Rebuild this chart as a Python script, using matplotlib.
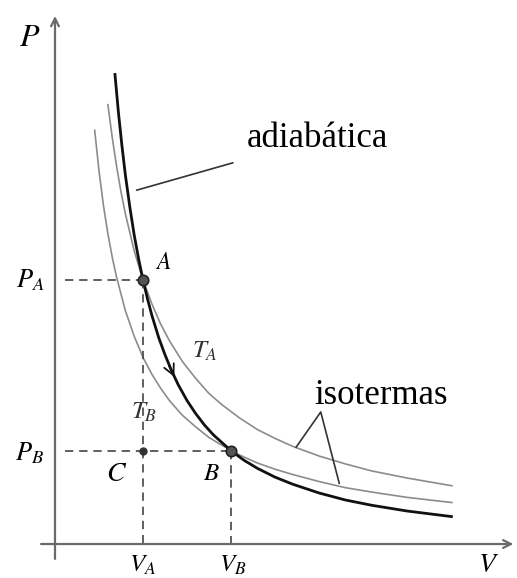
import matplotlib
matplotlib.use("Agg")
import matplotlib.pyplot as plt

plt.rcParams['mathtext.fontset'] = 'stix'

# states A, B and C
V_A, P_A = 1.0, 3.0
V_B, P_B = 2.0, 1.06

# isotherm through A (T_A)
iso_a_v = [0.6, 0.65, 0.7, 0.75, 0.8, 0.9, 1.0, 1.1, 1.2, 1.3, 1.45, 1.6, 1.75, 1.9, 2.1, 2.3,
           2.5, 2.7, 3.0, 3.3, 3.6, 4.0, 4.52]
iso_a_p = [5.00, 4.62, 4.29, 4.00, 3.75, 3.33, 3.00, 2.73, 2.50, 2.31, 2.07, 1.88, 1.71, 1.58,
           1.43, 1.30, 1.20, 1.11, 1.00, 0.91, 0.83, 0.75, 0.66]

# isotherm through B (T_B)
iso_b_v = [0.45, 0.5, 0.55, 0.6, 0.65, 0.7, 0.8, 0.9, 1.0, 1.1, 1.2, 1.3, 1.45, 1.6, 1.75, 1.9,
           2.1, 2.3, 2.5, 2.7, 3.0, 3.3, 3.6, 4.0, 4.52]
iso_b_p = [4.71, 4.24, 3.85, 3.53, 3.26, 3.03, 2.65, 2.36, 2.12, 1.93, 1.77, 1.63, 1.46, 1.33,
           1.21, 1.12, 1.01, 0.92, 0.85, 0.79, 0.71, 0.64, 0.59, 0.53, 0.47]

# adiabat A -> B
adi_v = [0.68, 0.72, 0.76, 0.8, 0.85, 0.9, 0.95, 1.0, 1.05, 1.1, 1.18, 1.25, 1.32, 1.4, 1.5,
         1.6, 1.7, 1.8, 2.0, 2.15, 2.3, 2.5, 2.7, 3.0, 3.3, 3.6, 4.0, 4.52]
adi_p = [5.35, 4.91, 4.53, 4.19, 3.83, 3.51, 3.24, 3.00, 2.79, 2.60, 2.34, 2.15, 1.98, 1.81,
         1.63, 1.48, 1.35, 1.24, 1.06, 0.95, 0.86, 0.76, 0.68, 0.58, 0.50, 0.44, 0.375, 0.31]

fig = plt.figure(figsize=(5.17, 5.78), dpi=100)
ax = fig.add_axes([0, 0, 1, 1])
ax.set_xlim(-0.625, 5.25)
ax.set_ylim(-0.386, 6.18)
ax.axis('off')

axis_col = '#6a6a6a'
ax.annotate('', xy=(0, 6.03), xytext=(0, -0.2),
            arrowprops=dict(arrowstyle='->', color=axis_col, lw=1.6, mutation_scale=14))
ax.annotate('', xy=(5.24, 0), xytext=(-0.19, 0),
            arrowprops=dict(arrowstyle='->', color=axis_col, lw=1.6, mutation_scale=14))

# curves
ax.plot(iso_a_v, iso_a_p, color='#8c8c8c', lw=1.2, solid_capstyle='butt')
ax.plot(iso_b_v, iso_b_p, color='#8c8c8c', lw=1.2, solid_capstyle='butt')
ax.plot(adi_v, adi_p, color='#111111', lw=2.0, solid_capstyle='butt')

# direction arrow on the adiabat
ax.annotate('', xy=(1.37, 1.87), xytext=(1.28, 2.06),
            arrowprops=dict(arrowstyle='->', color='#111111', lw=1.3, mutation_scale=19))

# dashed guides
dash = dict(color='#444444', lw=1.2, ls=(0, (5, 3.5)))
ax.plot([0.11, V_A], [P_A, P_A], **dash)
ax.plot([0.11, V_B], [P_B, P_B], **dash)
ax.plot([V_A, V_A], [P_A, 0], **dash)
ax.plot([V_B, V_B], [P_B, 0], **dash)

# state points
ax.plot([V_A, V_B], [P_A, P_B], 'o', color='#555555', mec='#222222', mew=1.2, ms=7.5, zorder=5)
ax.plot([V_A], [P_B], 'o', color='#333333', ms=5, zorder=5)

# leader lines
lead = dict(color='#333333', lw=1.2)
ax.plot([0.93, 2.02], [4.02, 4.33], **lead)
ax.plot([2.74, 3.02, 3.23], [1.10, 1.50, 0.69], **lead)

serif = 'Liberation Serif'
ax.text(2.18, 4.51, 'adiabática', family=serif, fontsize=25, ha='left', va='baseline')
ax.text(2.95, 1.59, 'isotermas', family=serif, fontsize=25, ha='left', va='baseline')

ax.text(-0.284, 5.75, '$P$', fontsize=23, ha='center', va='center')
ax.text(4.93, -0.07, '$V$', fontsize=20, ha='center', va='top')
ax.text(-0.12, P_A, '$P_A$', fontsize=19, ha='right', va='center')
ax.text(-0.13, P_B - 0.03, '$P_B$', fontsize=19, ha='right', va='center')
ax.text(V_A, -0.1, '$V_A$', fontsize=18, ha='center', va='top')
ax.text(V_B + 0.02, -0.1, '$V_B$', fontsize=18, ha='center', va='top')
ax.text(1.23, 3.2, '$A$', fontsize=17, ha='center', va='center')
ax.text(1.78, 0.81, '$B$', fontsize=18, ha='center', va='center')
ax.text(0.70, 0.81, '$C$', fontsize=20, ha='center', va='center')
ax.text(1.70, 2.19, '$T_A$', fontsize=18, ha='center', va='center', color='#333333')
ax.text(1.01, 1.50, '$T_B$', fontsize=18, ha='center', va='center', color='#333333')

fig.savefig('out.png', dpi=100)
